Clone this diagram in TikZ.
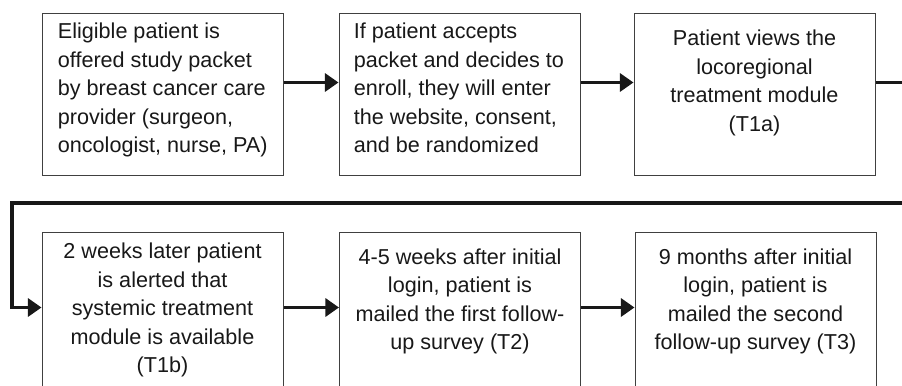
\documentclass[tikz,border=0pt]{standalone}
\usepackage{fontspec}
\setmainfont{Liberation Sans}
\usetikzlibrary{arrows.meta}
\definecolor{ink}{HTML}{181818}
\definecolor{frame}{HTML}{404040}
\tikzset{
  stage/.style={draw=frame, line width=0.5pt, minimum width=120.5pt, minimum height=81pt, inner sep=0pt},
  stagetext/.style={inner sep=0pt, text=ink, font=\fontsize{10.8}{14.25}\selectfont},
  flow/.style={draw=ink, line width=1.7pt, -{Triangle[length=6.8pt,width=9pt]}},
}
\begin{document}
\begin{tikzpicture}[x=0.5pt,y=-0.5pt]
  \useasboundingbox (0,0) rectangle (902,386);
  \clip (0,0) rectangle (902,386);
  % first row
  \node[stage] (offer) at (162.5,94) {};
  \node[stage] (enrol) at (459.5,94) {};
  \node[stage] (view)  at (754.5,94) {};
  \node[stagetext, anchor=north west, align=left] (offertext) at ([shift={(8pt,-5.2pt)}]offer.north west)
    {Eligible patient is\\offered study packet\\by breast cancer care\\provider (surgeon,\\oncologist, nurse, PA)};
  \node[stagetext, anchor=north west, align=left] (enroltext) at ([shift={(7.5pt,-5.2pt)}]enrol.north west)
    {If patient accepts\\packet and decides to\\enroll, they will enter\\the website, consent,\\and be randomized};
  \node[stagetext, anchor=north, align=center] (viewtext) at ([yshift=-8.5pt]view.north)
    {Patient views the\\locoregional\\treatment module\\(T1a)};
  % second row, cut by the page edge
  \node[stage] (alert)  at (162.5,313) {};
  \node[stage] (first)  at (460,313) {};
  \node[stage] (second) at (755.5,313) {};
  \node[stagetext, anchor=north, align=center] (alerttext) at ([yshift=-5.5pt]alert.north)
    {2 weeks later patient\\is alerted that\\systemic treatment\\module is available\\(T1b)};
  \node[stagetext, anchor=north, align=center] (firsttext) at ([yshift=-8.3pt]first.north)
    {4-5 weeks after initial\\login, patient is\\mailed the first follow-\\up survey (T2)};
  \node[stagetext, anchor=north, align=center] (secondtext) at ([yshift=-8.3pt]second.north)
    {9 months after initial\\login, patient is\\mailed the second\\follow-up survey (T3)};
  % arrows
  \draw[flow] ([yshift=-35pt]offer.north east) -- ([yshift=-35pt]enrol.north west);
  \draw[flow] ([yshift=-35pt]enrol.north east) -- ([yshift=-35pt]view.north west);
  \coordinate (rturn) at (910,203);
  \coordinate (lturn) at (12,203);
  \draw[flow] ([yshift=-35pt]view.north east) -| (rturn) -- (lturn) |- ([yshift=-38pt]alert.north west);
  \draw[flow] ([yshift=-38pt]alert.north east) -- ([yshift=-38pt]first.north west);
  \draw[flow] ([yshift=-38pt]first.north east) -- ([yshift=-38pt]second.north west);
\end{tikzpicture}
\end{document}
